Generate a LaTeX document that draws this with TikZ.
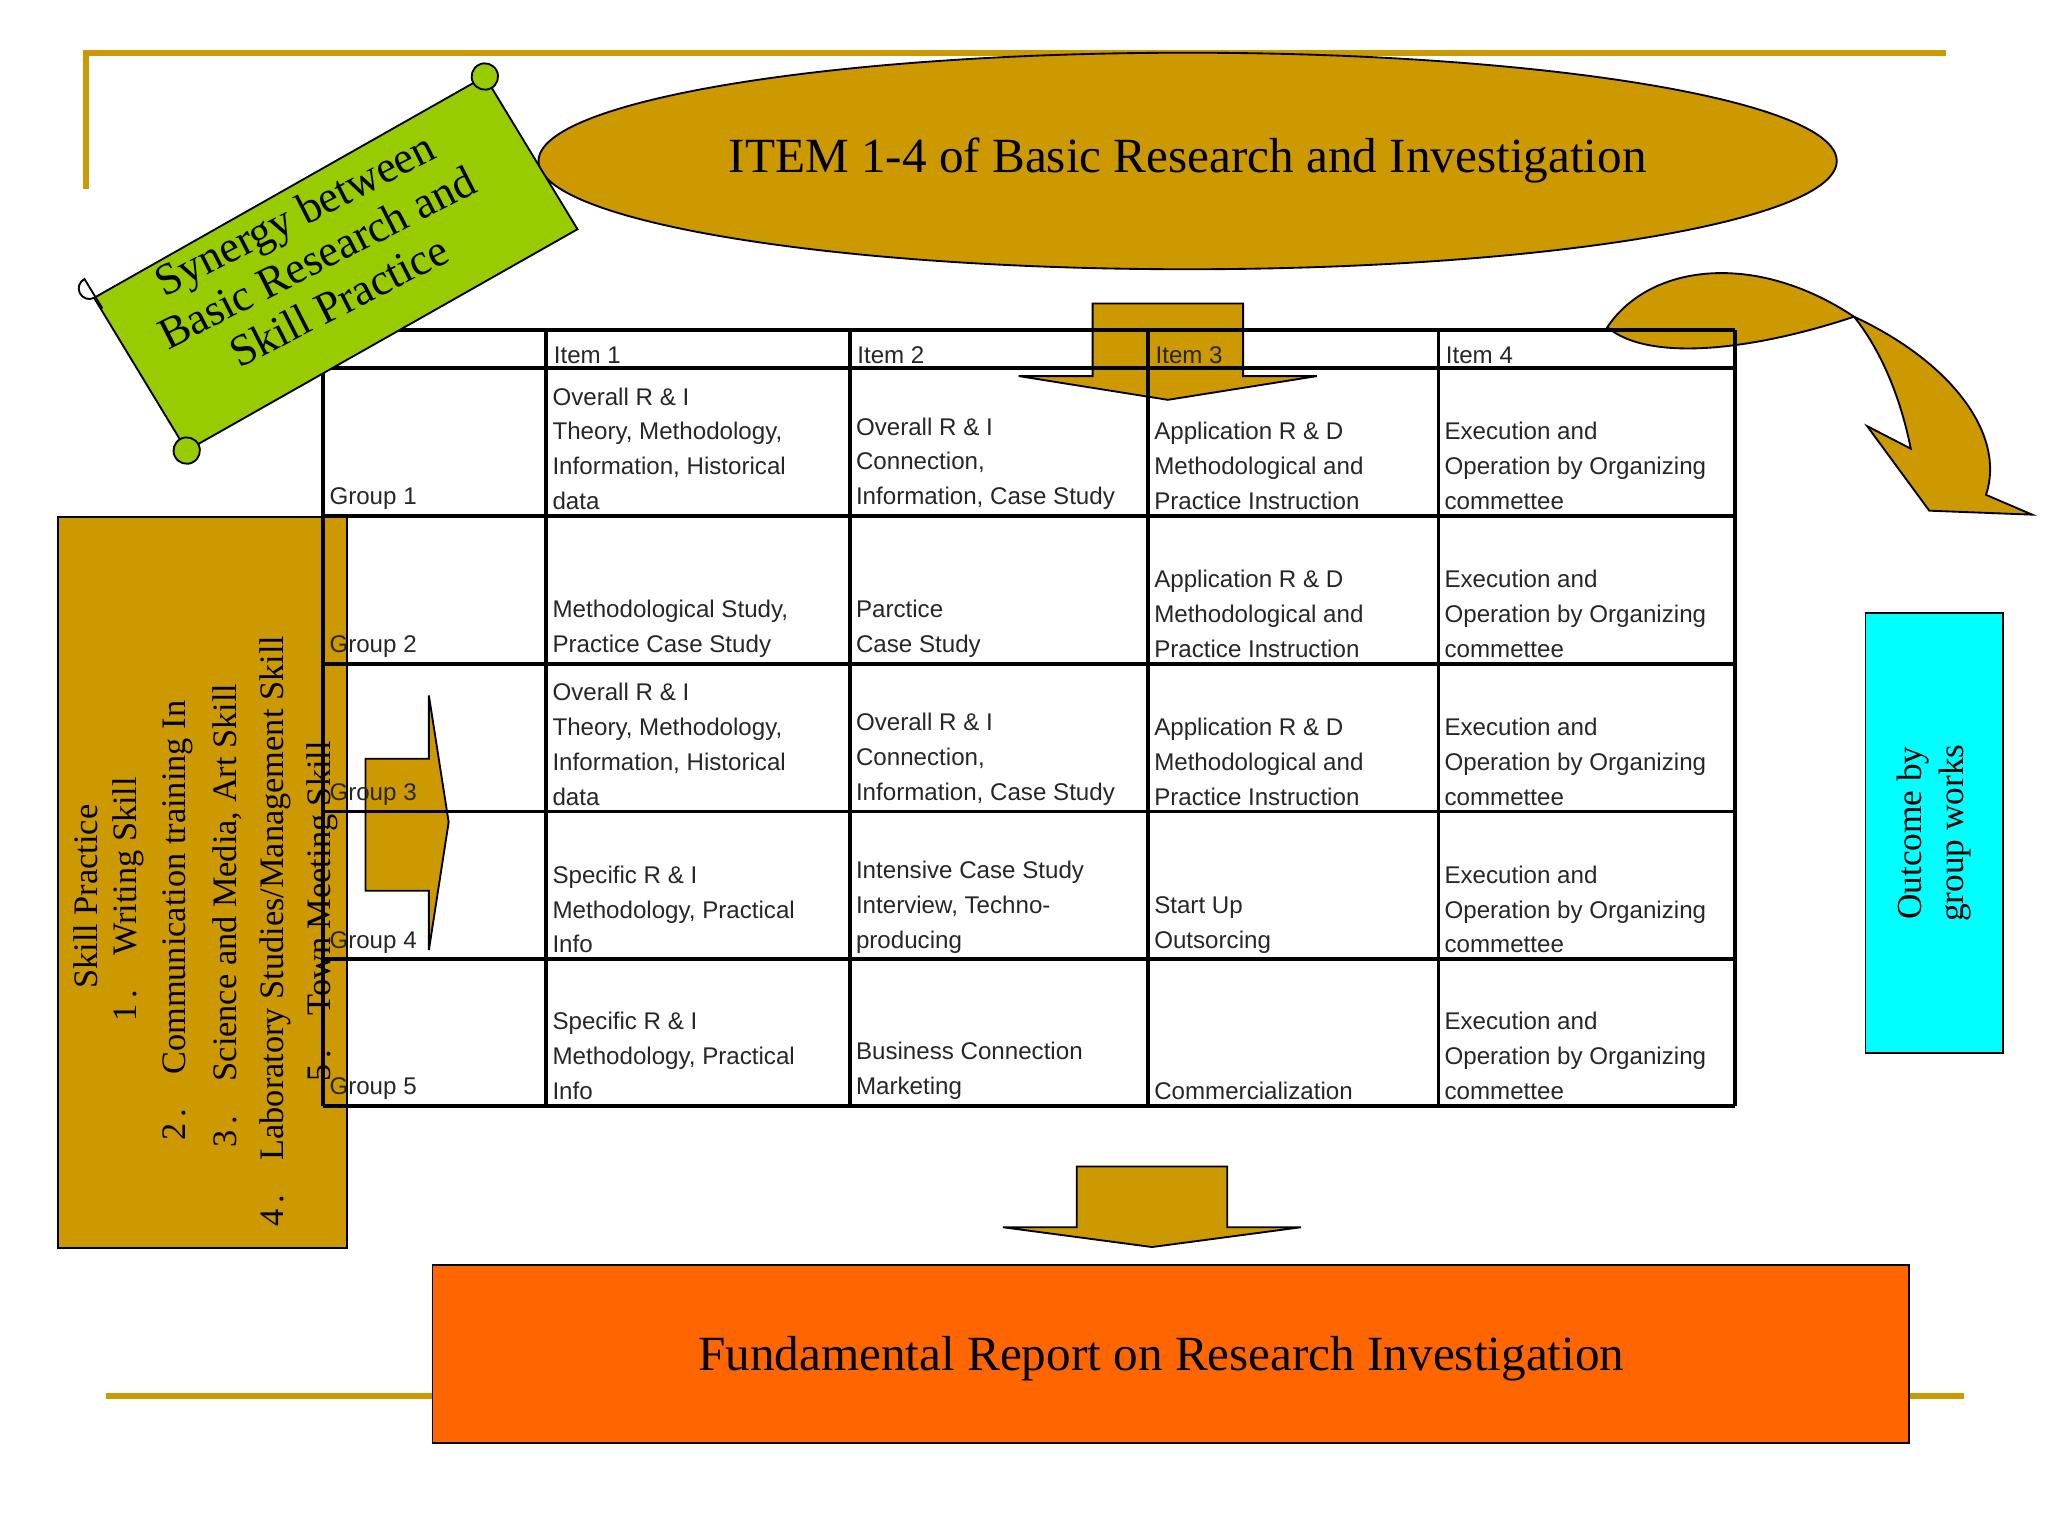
\documentclass[tikz,border=0pt]{standalone}
\usepackage{fontspec}
\setmainfont{Liberation Serif}
\newfontfamily\cellfont{Liberation Sans}
\usetikzlibrary{shapes.geometric}
\definecolor{gold}{HTML}{CC9900}
\definecolor{leaf}{HTML}{99CC00}
\definecolor{report}{HTML}{FF6600}
\definecolor{aqua}{HTML}{00FFFF}
\tikzset{
  goldfill/.style={draw=black, fill=gold},
  cell/.style={anchor=south west, align=left, inner sep=0pt, font=\cellfont\fontsize{5.2}{7.5}\selectfont, text=black!85},
  skill/.style={rotate=90, anchor=south west, inner sep=0pt, font=\fontsize{7.4}{9}\selectfont},
}
\begin{document}
\begin{tikzpicture}[x=0.01cm, y=-0.01cm]
\useasboundingbox (0,0) rectangle (1552,1164);
% frame lines
\draw[gold, line width=1.2pt] (65,143) -- (65,40) -- (1475,40);
\draw[gold, line width=1.2pt] (80,1058) -- (1488,1058);
% title ellipse
\node[goldfill, ellipse, minimum width=9.46cm, minimum height=1.64cm, inner sep=0pt, font=\fontsize{10.6}{12}\selectfont] (title) at (900,122) {ITEM 1-4 of Basic Research and Investigation};
% skill practice box
\node[goldfill, anchor=north west, minimum width=2.19cm, minimum height=5.54cm, inner sep=0pt] (skillbox) at (43,391) {};
% arrows
\draw[goldfill] (828,230) -- (942,230) -- (942,285) -- (998,285) -- (885,303) -- (772,285) -- (828,285) -- cycle;
\draw[goldfill] (277,575) -- (325,575) -- (325,527) -- (340,623) -- (325,720) -- (325,675) -- (277,675) -- cycle;
\draw[goldfill] (816,884) -- (930,884) -- (930,930) -- (986,930) -- (873,945) -- (760,930) -- (816,930) -- cycle;
\draw[goldfill] (1218,248) .. controls (1250,200) and (1330,190) .. (1405,240)
  .. controls (1480,275) and (1520,330) .. (1505,375) -- (1540,390) -- (1462,387) -- (1415,323) -- (1448,340)
  .. controls (1440,300) and (1425,265) .. (1405,240) .. controls (1330,265) and (1250,275) .. (1218,248) -- cycle;
% table
\foreach \x in {245,414,644,870,1090,1315} \draw[thick] (\x,250) -- (\x,838);
\foreach \y in {250,279,391,503,615,727,838} \draw[thick] (245,\y) -- (1315,\y);
\foreach[count=\i] \x in {414,644,870,1090}
  \node[cell] (head\i) at (\x+5,276) {Item \i};
\foreach[count=\r] \y/\a/\b/\c/\d in {
  391/{Overall R \& I\\Theory, Methodology,\\Information, Historical\\data}/{Overall R \& I\\Connection,\\Information, Case Study}/{Application R \& D\\Methodological and\\Practice Instruction}/{Execution and\\Operation by Organizing\\commettee},
  503/{Methodological Study,\\Practice Case Study}/{Parctice\\Case Study}/{Application R \& D\\Methodological and\\Practice Instruction}/{Execution and\\Operation by Organizing\\commettee},
  615/{Overall R \& I\\Theory, Methodology,\\Information, Historical\\data}/{Overall R \& I\\Connection,\\Information, Case Study}/{Application R \& D\\Methodological and\\Practice Instruction}/{Execution and\\Operation by Organizing\\commettee},
  727/{Specific R \& I\\Methodology, Practical\\Info}/{Intensive Case Study\\Interview, Techno-\\producing}/{Start Up\\Outsorcing}/{Execution and\\Operation by Organizing\\commettee},
  838/{Specific R \& I\\Methodology, Practical\\Info}/{Business Connection\\Marketing}/{Commercialization}/{Execution and\\Operation by Organizing\\commettee}}
{
  \node[cell] (g\r) at (249,\y-4) {Group \r};
  \node[cell] (c\r a) at (418,\y-4) {\a};
  \node[cell] (c\r b) at (648,\y-4) {\b};
  \node[cell] (c\r c) at (874,\y-4) {\c};
  \node[cell] (c\r d) at (1094,\y-4) {\d};
}
% skill practice text
\node[skill] (sk0) at (75,750) {Skill Practice};
\node[skill] (sk1) at (110,775) {1\,.\quad Writing Skill};
\node[skill] (sk2) at (147,865) {2\,.\quad Communication training In};
\node[skill] (sk3) at (184,870) {3\,.\quad Science and Media, Art Skill};
\node[skill] (sk4) at (221,930) {4\,.\quad Laboratory Studies/Management Skill};
\node[skill] (sk5) at (257,820) {5\,.\quad Town Meeting Skill};
% outcome box
\node[draw=black, fill=aqua, anchor=north west, minimum width=1.04cm, minimum height=3.33cm, inner sep=0pt] (outcome) at (1413,464) {};
\node[rotate=90, align=center, font=\fontsize{7.6}{9}\selectfont] (outtext) at (outcome.center) {Outcome by\\group works};
% report box
\node[draw=black, fill=report, anchor=north west, minimum width=11.18cm, minimum height=1.35cm, inner sep=0pt] (reportbox) at (327,958) {};
\node[font=\fontsize{10.6}{12}\selectfont] (reporttext) at (880,1030) {Fundamental Report on Research Investigation};
% scroll
\begin{scope}[shift={(250,202)}, rotate=27]
\draw[draw=black, fill=leaf] (-170,-60) -- (170,-75) -- (180,60) -- (-160,75) -- cycle;
\draw[draw=black, fill=leaf] (170,-75) circle[radius=10];
\draw[draw=black, fill=leaf] (-160,75) circle[radius=10];
\draw (-170,-60) arc[start angle=90, end angle=270, radius=8] -- (-168,-50);
\end{scope}
\node[rotate=27, align=center, font=\fontsize{9.6}{10.5}\selectfont] (synergy) at (240,195) {Synergy between\\Basic Research and\\Skill Practice};
\end{tikzpicture}
\end{document}
